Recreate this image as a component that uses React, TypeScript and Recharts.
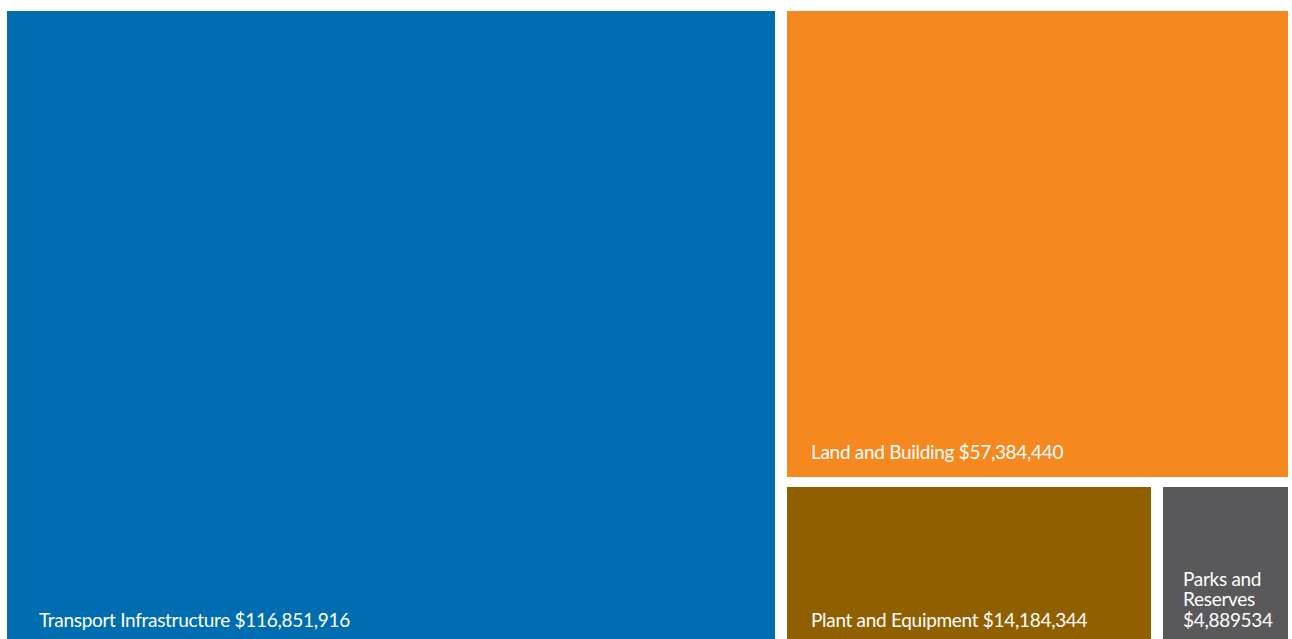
import React from 'react';
import { Treemap } from 'recharts';

const names = ['Transport Infrastructure', 'Land and Building', 'Plant and Equipment', 'Parks and Reserves'];
const values = [116851916, 57384440, 14184344, 4889534];
const valueLabels = ['$116,851,916', '$57,384,440', '$14,184,344', '$4,889534'];
const colors = ['#006DB0', '#F68820', '#905F00', '#59595B'];

const data = names.map((name, i) => ({ name, value: values[i], label: valueLabels[i], fill: colors[i] }));

const W = 1281;
const H = 628;
const FONT = 19;

function wrapText(text: string, maxWidth: number) {
  const words = text.split(' ');
  const lines: string[] = [];
  let cur = '';
  words.forEach((w) => {
    const next = cur ? cur + ' ' + w : w;
    if (next.length * FONT * 0.5 > maxWidth && cur) {
      lines.push(cur);
      cur = w;
    } else {
      cur = next;
    }
  });
  if (cur) lines.push(cur);
  return lines;
}

const Cell = (props: any) => {
  const { x, y, width, height, depth, name, label, fill } = props;
  if (depth !== 1) return <g />;
  // white gaps only on inner edges
  const l = x > 0.5 ? 6 : 0;
  const r = x + width < W - 0.5 ? 6 : 0;
  const t = y > 0.5 ? 5 : 0;
  const b = y + height < H - 0.5 ? 5 : 0;
  const rx = x + l;
  const ry = y + t;
  const rw = width - l - r;
  const rh = height - t - b;
  const padL = rw > 600 ? 32 : rw < 200 ? 20 : 24;
  const bottom = ry + rh - (b === 0 ? 12 : 18);
  const text = `${name} ${label}`;
  const lines = wrapText(text, rw - padL - 10);
  const lh = 20.7;
  return (
    <g>
      <rect x={rx} y={ry} width={rw} height={rh} fill={fill} stroke="none" />
      <text
        x={rx + padL}
        y={bottom}
        fill="#fff"
        fontSize={FONT}
        letterSpacing={-0.3}
        fontFamily="Lato, sans-serif"
      >
        {lines.map((ln, i) => (
          <tspan key={i} x={rx + padL} y={bottom - (lines.length - 1 - i) * lh}>
            {ln}
          </tspan>
        ))}
      </text>
    </g>
  );
};

export default function App() {
  return (
    <div style={{ position: 'absolute', left: 7, top: 11, width: 1285, height: 628, overflow: 'hidden' }}>
      <Treemap
        width={W}
        height={H}
        data={data}
        dataKey="value"
        nameKey="name"
        stroke="none"
        isAnimationActive={false}
        content={<Cell />}
      />
    </div>
  );
}
